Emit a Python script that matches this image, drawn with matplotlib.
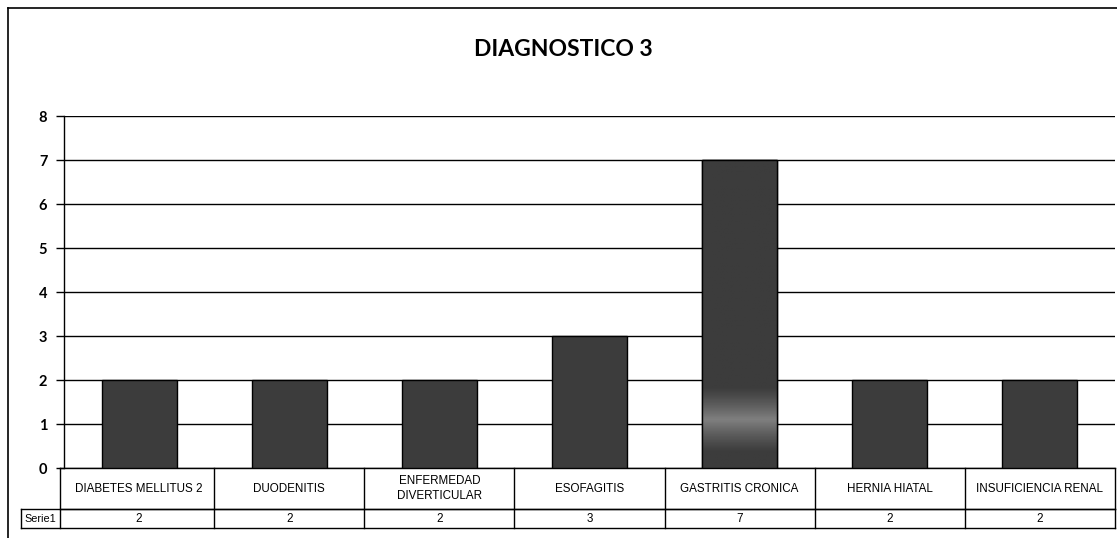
import matplotlib.pyplot as plt
import matplotlib.transforms as mtransforms
import numpy as np

# ---------------------- Data ----------------------- #

TITLE = "DIAGNOSTICO 3"
SERIES_NAME = "Serie1"
categories = ["DIABETES MELLITUS 2", "DUODENITIS", "ENFERMEDAD\nDIVERTICULAR",
              "ESOFAGITIS", "GASTRITIS CRONICA", "HERNIA HIATAL",
              "INSUFICIENCIA RENAL"]
values = [2, 2, 2, 3, 7, 2, 2]
y_ticks = [0, 1, 2, 3, 4, 5, 6, 7, 8]

BAR_COLOR = "#3c3c3c"

# ---------------------- Plot ----------------------- #

W, H = 1117, 538
fig = plt.figure(figsize=(W / 100, H / 100), dpi=100)

# outer chart border (only left/top visible, rest cropped)
fig.add_artist(plt.Line2D([8 / W, 8 / W], [0, 1 - 8 / H], color="black", lw=1.2))
fig.add_artist(plt.Line2D([8 / W, 1], [1 - 8 / H, 1 - 8 / H], color="black", lw=1.2))

left, right, top, bottom = 64, 1115, 116, 468
ax = fig.add_axes([left / W, 1 - bottom / H, (right - left) / W, (bottom - top) / H])

x = np.arange(len(categories))
bars = ax.bar(x, values, width=0.5, color=BAR_COLOR, edgecolor="black", linewidth=1, zorder=3)

# lighter band near the bottom of the tallest bar
tall = bars[int(np.argmax(values))]
grad_y = np.linspace(0, 1, 200)
shade = np.full_like(grad_y, 0.235)
center, half = 1.09 / tall.get_height(), 0.75 / tall.get_height()
band = np.clip(1 - np.abs(grad_y - center) / half, 0, 1)
shade = shade + band ** 1.2 * (0.50 - 0.235)
img = np.repeat(shade[:, None], 2, axis=1)
im = ax.imshow(img, cmap="gray", vmin=0, vmax=1, origin="lower", aspect="auto",
               extent=[tall.get_x(), tall.get_x() + tall.get_width(), 0, tall.get_height()],
               zorder=3.5)
im.set_clip_path(tall)
ax.bar(tall.get_x() + tall.get_width() / 2, tall.get_height(), width=tall.get_width(),
       fill=False, edgecolor="black", linewidth=1, zorder=4)

ax.set_xlim(-0.5, len(categories) - 0.5)
ax.set_ylim(0, 8)
ax.set_yticks(y_ticks)
ax.set_yticklabels([str(t) for t in y_ticks], fontfamily="Lato", fontweight="bold", fontsize=10.5)
ax.tick_params(axis="y", length=6, width=1, pad=6)
ax.set_xticks([])
ax.yaxis.grid(True, color="black", linewidth=1)
ax.set_axisbelow(True)
for s in ["top", "right", "bottom"]:
    ax.spines[s].set_visible(False)
ax.spines["left"].set_linewidth(1)

# data table below the axis
trans = mtransforms.blended_transform_factory(ax.transData, ax.transAxes)
px = 1 / (bottom - top)
row1_bot = -41 * px
row2_bot = -60 * px
lk = dict(color="black", lw=1, clip_on=False, transform=trans)
x0, x1 = -0.5 - 4 / ((right - left) / len(categories)), len(categories) - 0.5
ax.plot([x0, x1], [0, 0], **lk)
ax.plot([x0, x1], [row1_bot, row1_bot], **lk)
serie_left = -0.5 - 43 / ((right - left) / len(categories))
ax.plot([serie_left, x1], [row1_bot, row1_bot], **lk)
ax.plot([serie_left, x1], [row2_bot, row2_bot], **lk)
ax.plot([serie_left, serie_left], [row1_bot, row2_bot], **lk)
ax.plot([x0, x0], [0, row2_bot], **lk)
for b in np.arange(0.5, len(categories) - 0.5 + 1e-9, 1.0):
    ax.plot([b, b], [0, row2_bot], **lk)

tk = dict(transform=trans, ha="center", va="center", fontfamily="Liberation Sans",
          fontsize=8.4, clip_on=False)
for i, (c, v) in enumerate(zip(categories, values)):
    ax.text(i, row1_bot / 2, c, linespacing=1.3, **tk)
    ax.text(i, (row1_bot + row2_bot) / 2, str(v), **tk)
ax.text((serie_left + x0) / 2 + 0.002, (row1_bot + row2_bot) / 2, SERIES_NAME,
        **{**tk, "fontsize": 7.8})

fig.text(563 / W, 1 - 49 / H, TITLE, ha="center", va="center", fontfamily="Lato",
         fontweight="bold", fontsize=16.5)

plt.savefig("out.png", dpi=100)
